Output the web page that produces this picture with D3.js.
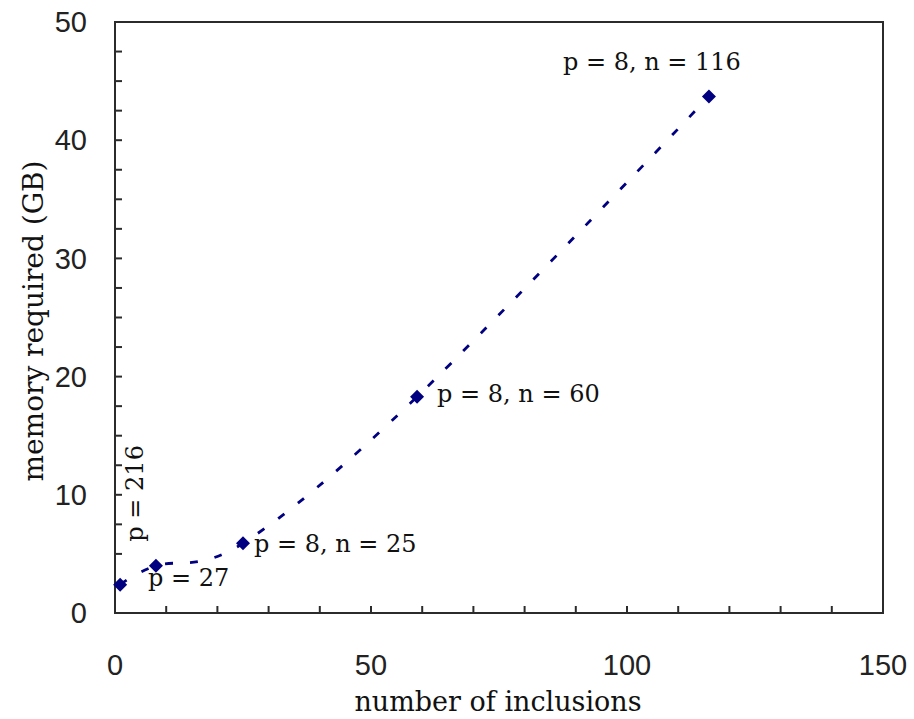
<!DOCTYPE html>
<html>
<head>
<meta charset="utf-8">
<script src="https://cdn.jsdelivr.net/npm/d3@7"></script>
<style>
  html, body { margin: 0; padding: 0; background: #fff; }
  svg { display: block; }
</style>
</head>
<body>
<div id="chart"></div>
<script>
// values
const inclusions = [1, 8, 25, 59, 116];
const memoryGB = [2.4, 4.0, 5.9, 18.3, 43.7];
const pointLabels = ['p = 216', 'p = 27', 'p = 8, n = 25', 'p = 8, n = 60', 'p = 8, n = 116'];
const xTickLabels = [0, 50, 100, 150];
const yTickLabels = [0, 10, 20, 30, 40, 50];

// label placement relative to each point (dx, dy, anchor, rotate)
const labelPlacement = [
    { dx: 23, dy: -43, anchor: 'start', rotate: -90 },
    { dx: -8, dy: 20, anchor: 'start', rotate: 0 },
    { dx: 11, dy: 9, anchor: 'start', rotate: 0 },
    { dx: 20, dy: 5, anchor: 'start', rotate: 0 },
    { dx: -57, dy: -26, anchor: 'middle', rotate: 0 }
];

const W = 914, H = 719;
const margin = { left: 115, right: 31, top: 22, bottom: 106 };
const w = W - margin.left - margin.right,
      h = H - margin.top - margin.bottom;

const svg = d3.select('#chart').append('svg')
    .attr('width', W).attr('height', H);

const x = d3.scaleLinear().domain([0, 150]).range([0, w]),
      y = d3.scaleLinear().domain([0, 50]).range([h, 0]);

const g = svg.append('g')
    .attr('transform', 'translate(' + margin.left + ',' + margin.top + ')');

const axisColor = '#2b2b2b',
      navy = '#000080';

// inward minor ticks
g.append('g').selectAll('line.xt')
    .data(d3.range(0, 151, 10))
    .enter().append('line')
    .attr('x1', d => x(d)).attr('x2', d => x(d))
    .attr('y1', h).attr('y2', h - 7)
    .attr('stroke', axisColor).attr('stroke-width', 2);

g.append('g').selectAll('line.yt')
    .data(d3.range(0, 50.1, 2.5))
    .enter().append('line')
    .attr('x1', 0).attr('x2', 7)
    .attr('y1', d => y(d)).attr('y2', d => y(d))
    .attr('stroke', axisColor).attr('stroke-width', 2);

// plot frame
g.append('rect')
    .attr('x', 0).attr('y', 0)
    .attr('width', w).attr('height', h)
    .attr('fill', 'none')
    .attr('stroke', axisColor)
    .attr('stroke-width', 2);

// tick labels
const tickFont = '"Liberation Sans", Arial, sans-serif';
g.append('g').selectAll('text')
    .data(xTickLabels)
    .enter().append('text')
    .attr('x', d => x(d))
    .attr('y', h + 62)
    .attr('text-anchor', 'middle')
    .style('font-family', tickFont)
    .style('font-size', '29px')
    .attr('fill', '#222')
    .text(d => d);

g.append('g').selectAll('text')
    .data(yTickLabels)
    .enter().append('text')
    .attr('x', -28)
    .attr('y', d => y(d))
    .attr('dy', '0.35em')
    .attr('text-anchor', 'end')
    .style('font-family', tickFont)
    .style('font-size', '29px')
    .attr('fill', '#222')
    .text(d => d);

// axis titles
const serif = '"DejaVu Serif", "Liberation Serif", serif';
svg.append('text')
    .attr('x', 498)
    .attr('y', 711)
    .attr('text-anchor', 'middle')
    .style('font-family', serif)
    .style('font-size', '27px')
    .attr('fill', '#111')
    .text('number of inclusions');

svg.append('text')
    .attr('transform', 'translate(43,' + 321 + ') rotate(-90)')
    .attr('text-anchor', 'middle')
    .style('font-family', serif)
    .style('font-size', '28px')
    .attr('fill', '#111')
    .text('memory required (GB)');

// data
const data = inclusions.map((n, i) => ({ x: n, y: memoryGB[i], label: pointLabels[i], pl: labelPlacement[i] }));

const line = d3.line()
    .x(d => x(d.x))
    .y(d => y(d.y))
    .curve(d3.curveCardinal.tension(0));

g.append('path')
    .datum(data)
    .attr('d', line)
    .attr('fill', 'none')
    .attr('stroke', navy)
    .attr('stroke-width', 2.8)
    .attr('stroke-dasharray', '8,17');

g.append('g').selectAll('path.pt')
    .data(data)
    .enter().append('path')
    .attr('d', d3.symbol().type(d3.symbolSquare).size(98))
    .attr('transform', d => 'translate(' + x(d.x) + ',' + y(d.y) + ') rotate(45)')
    .attr('fill', navy);

g.append('g').selectAll('text')
    .data(data)
    .enter().append('text')
    .attr('transform', d => 'translate(' + (x(d.x) + d.pl.dx) + ',' + (y(d.y) + d.pl.dy) + ') rotate(' + d.pl.rotate + ')')
    .attr('text-anchor', d => d.pl.anchor)
    .style('font-family', serif)
    .style('font-size', '24px')
    .attr('fill', '#111')
    .text(d => d.label);
</script>
</body>
</html>
